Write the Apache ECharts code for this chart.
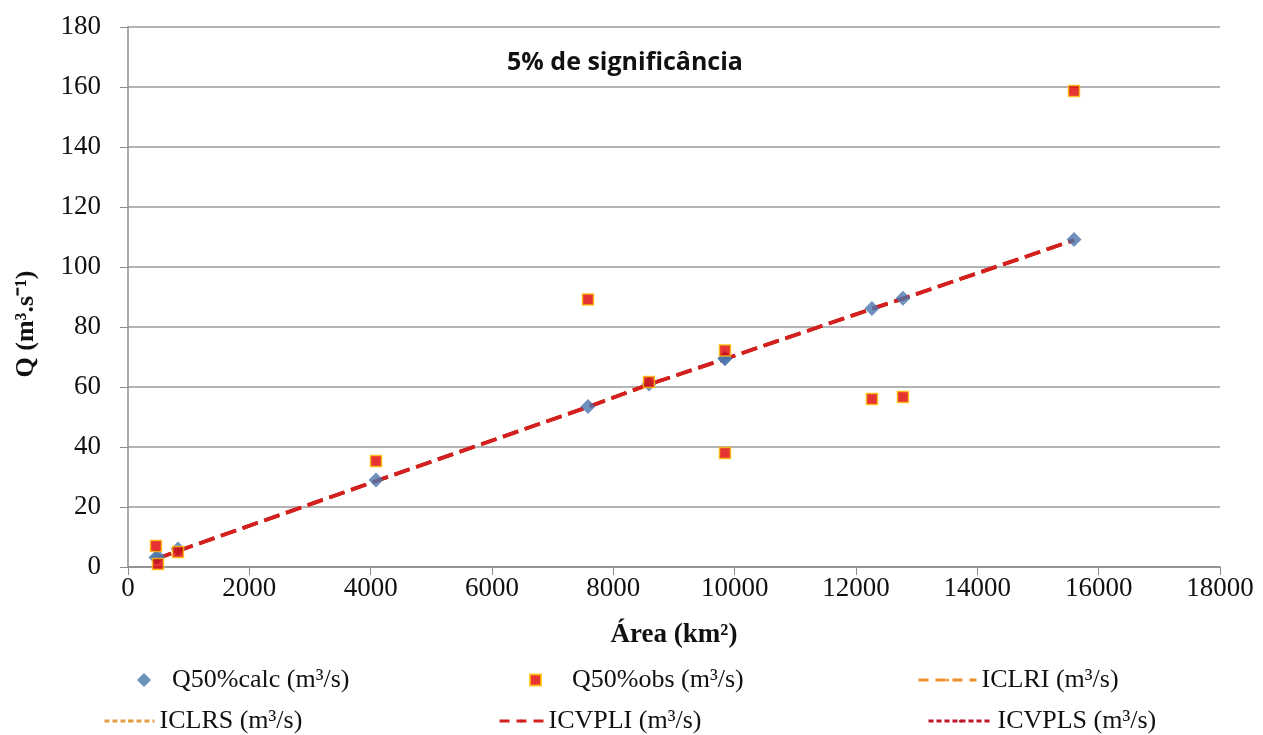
<!DOCTYPE html>
<html><head><meta charset="utf-8">
<script src="https://cdn.jsdelivr.net/npm/echarts@6/dist/echarts.min.js"></script>
<style>html,body{margin:0;padding:0;background:#fff}#c{width:1263px;height:735px}</style>
</head><body><div id="c"></div>
<script>
const area = [461, 494, 824, 4088, 7582, 8587, 9840, 9840, 12263, 12774, 15593];
const qCalc = [3.2, 3.4, 6.0, 29.0, 53.5, 61.0, 69.5, 69.5, 86.2, 89.6, 109.2];
const qObs = [7.0, 1.0, 5.0, 35.3, 89.2, 61.7, 72.2, 38.0, 56.0, 56.7, 158.7];
const iclri = [2.6, 2.8, 5.3, 28.6, 53.3, 60.8, 69.3, 69.3, 86.0, 89.4, 108.9];
const iclrs = [2.7, 2.9, 5.4, 28.7, 53.4, 60.9, 69.4, 69.4, 86.1, 89.5, 109.0];
const icvpli = [2.6, 2.8, 5.3, 28.6, 53.3, 60.8, 69.3, 69.3, 86.0, 89.4, 108.9];
const icvpls = [2.7, 2.9, 5.4, 28.7, 53.4, 60.9, 69.4, 69.4, 86.1, 89.5, 109.0];
const yTicks = [0, 20, 40, 60, 80, 100, 120, 140, 160, 180];
const names = ['Q50%calc (m³/s)', 'Q50%obs (m³/s)', 'ICLRI (m³/s)', 'ICLRS (m³/s)', 'ICVPLI (m³/s)', 'ICVPLS (m³/s)'];

const pairs = (ys) => area.map((x, i) => [x, ys[i]]);
const serif = '"Liberation Serif", "DejaVu Serif", serif';
const legendText = {fontFamily: serif, fontSize: 26, color: '#111'};

function lineSeries(name, ys, color, z) {
  return {name, type: 'line', data: pairs(ys), showSymbol: false, symbol: 'none',
    lineStyle: {color, width: 3.5, type: [16, 7]}, itemStyle: {color}, z, silent: true};
}
function lineLegend(name, color, dash, left, top, w) {
  return {data: [{name, lineStyle: {color, width: 3, type: dash}, itemStyle: {color}}],
    left, top, itemWidth: w, itemHeight: 4, textStyle: legendText};
}

const chart = echarts.init(document.getElementById('c'));
chart.setOption({
  animation: false,
  backgroundColor: '#fff',
  title: {text: '5% de significância', left: 620, top: 45, textAlign: 'center',
    textStyle: {fontFamily: '"Open Sans", "Noto Sans", sans-serif', fontWeight: 'bold', fontSize: 25, color: '#111'}},
  grid: {left: 128, right: 43, top: 27, bottom: 168},
  graphic: [{type: 'text', x: 26, y: 324, rotation: Math.PI / 2,
    style: {text: 'Q (m³.s⁻¹)', font: 'bold 26px "Liberation Serif", serif', fill: '#111',
      align: 'center', verticalAlign: 'middle'}}],
  xAxis: {type: 'value', min: 0, max: 18000, interval: 2000,
    name: 'Área (km²)', nameLocation: 'middle', nameGap: 55,
    nameTextStyle: {fontFamily: serif, fontWeight: 'bold', fontSize: 27, color: '#111'},
    axisLine: {lineStyle: {color: '#8c8c8c', width: 1.5}},
    axisTick: {show: true, length: 8, lineStyle: {color: '#8c8c8c'}},
    axisLabel: {fontFamily: serif, fontSize: 27, color: '#111', margin: 8, formatter: v => String(v)},
    splitLine: {show: false}},
  yAxis: {type: 'value', min: 0, max: 180, interval: 20,
    axisLine: {show: true, lineStyle: {color: '#8c8c8c', width: 1.5}},
    axisTick: {show: true, length: 8, lineStyle: {color: '#8c8c8c'}},
    axisLabel: {fontFamily: serif, fontSize: 27, color: '#111', margin: 27,
      formatter: v => yTicks.includes(v) ? String(v) : ''},
    splitLine: {show: true, lineStyle: {color: '#9a9a9a', width: 1.5}}},
  legend: [
    {data: [names[0]], left: 132, top: 662, itemWidth: 14, itemHeight: 14, textStyle: Object.assign({padding: [0, 0, 0, 16]}, legendText)},
    {data: [names[1]], left: 524, top: 662, itemWidth: 11, itemHeight: 11, textStyle: Object.assign({padding: [0, 0, 0, 26]}, legendText)},
    lineLegend(names[2], '#f0902a', [10, 7], 912, 662, 58),
    lineLegend(names[3], '#e0a040', [5, 3], 98, 703, 50),
    lineLegend(names[4], '#d42020', [10, 7], 493, 703, 44),
    lineLegend(names[5], '#c0182a', [5, 3], 922, 703, 64)
  ],
  series: [
    lineSeries(names[2], iclri, '#f0902a', 2),
    lineSeries(names[3], iclrs, '#e0a040', 2),
    lineSeries(names[5], icvpls, '#c0182a', 2),
    lineSeries(names[4], icvpli, '#d42020', 2),
    {name: names[0], type: 'scatter', data: pairs(qCalc), symbol: 'diamond', symbolSize: 15,
      itemStyle: {color: '#4a76ae'}, z: 3},
    {name: names[1], type: 'scatter', data: pairs(qObs), symbol: 'rect', symbolSize: 11,
      itemStyle: {color: '#e00000', borderColor: '#ffc000', borderWidth: 1.5}, z: 4}
  ]
});
</script></body></html>
